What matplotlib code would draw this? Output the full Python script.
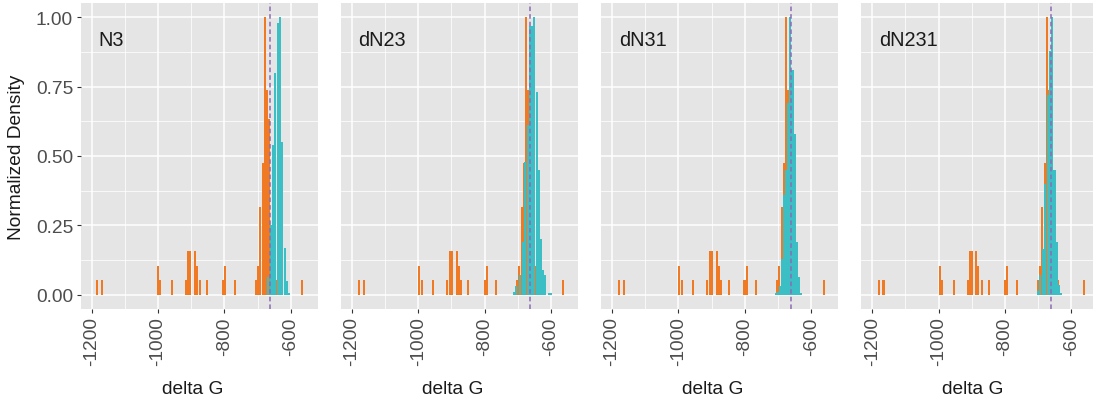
import matplotlib
matplotlib.use("Agg")
import matplotlib.pyplot as plt
import numpy as np

plt.rcParams['font.family'] = ['Liberation Sans', 'DejaVu Sans']

panels = ["N3", "dN23", "dN31", "dN231"]
ref_dg = -662

# orange: bin centres and counts (normalised by the tallest bin)
orange_x_n3 = [-1184, -1169, -1000, -994, -958, -916, -910, -904, -888, -883, -874, -852,
               -803, -798, -768, -705, -699, -693, -685, -678, -672, -665, -658, -652, -643, -566]
orange_n_n3 = [1, 1, 2, 1, 1, 1, 3, 3, 3, 2, 1, 1, 1, 2, 1, 1, 2, 6, 9, 19, 14, 12, 3, 2, 1, 1]

orange_x_dn23 = [-1179, -1164, -998, -988, -955, -914, -904, -898, -883, -878, -871, -849,
                 -799, -793, -765, -702.5, -696.5, -686.5, -680.5, -674.5, -668.5, -663, -657,
                 -647, -640, -563]
orange_n_dn23 = [1, 1, 2, 1, 1, 1, 3, 3, 3, 2, 1, 1, 1, 2, 1, 1, 2, 6, 9, 19, 14, 12, 3, 2, 1, 1]

orange_x_dn31 = [-1179, -1164, -998, -988, -955, -914, -904, -898, -883, -878, -871, -849,
                 -801, -793, -765, -702.5, -696.5, -687.5, -681.5, -675.5, -669.5, -663, -657,
                 -647, -640, -561]
orange_n_dn31 = [1, 1, 2, 1, 1, 1, 3, 3, 3, 2, 1, 1, 1, 2, 1, 1, 2, 6, 9, 19, 14, 12, 3, 2, 1, 1]

orange_x_dn231 = [-1181, -1166, -996, -990, -954, -912, -905.5, -899.5, -887.5, -881.5, -869.5,
                  -848, -800, -794, -764, -700.5, -694.5, -688.5, -679.5, -673.5, -667.5, -661.5,
                  -655, -648, -641, -563]
orange_n_dn231 = [1, 1, 2, 1, 1, 1, 3, 3, 3, 2, 1, 1, 1, 2, 1, 1, 2, 6, 9, 19, 14, 12, 3, 2, 1, 1]

# teal: bin centres and normalised heights
teal_x_n3 = [-668.7, -659.6, -653.5, -647.5, -638.4, -632.3, -626.3, -617.2, -611.1, -605]
teal_h_n3 = [0.065, 0.25, 0.54, 0.80, 0.98, 1.0, 0.55, 0.17, 0.05, 0.008]

teal_x_dn23 = [-711.5, -705.5, -693.5, -684.5, -678.5, -669.5, -663.5, -657.5, -651, -642,
               -636, -629, -623, -617, -605, -599]
teal_h_dn23 = [0.01, 0.03, 0.07, 0.19, 0.48, 0.61, 0.97, 0.97, 1.0, 0.73,
               0.45, 0.2, 0.09, 0.07, 0.005, 0.005]

teal_x_dn31 = [-706, -700, -694, -688, -682, -675.5, -669.5, -663.5, -656.5, -648.5, -642, -636, -630]
teal_h_dn31 = [0.005, 0.01, 0.03, 0.13, 0.36, 0.45, 0.69, 1.0, 0.81, 0.58, 0.19, 0.065, 0.005]

teal_x_dn231 = [-701, -694, -686, -680, -669.5, -663.5, -657.5, -651, -644.5, -638.5, -632]
teal_h_dn231 = [0.015, 0.07, 0.165, 0.4, 0.72, 0.88, 1.0, 0.45, 0.19, 0.035, 0.006]

orange_x = [orange_x_n3, orange_x_dn23, orange_x_dn31, orange_x_dn231]
orange_n = [orange_n_n3, orange_n_dn23, orange_n_dn31, orange_n_dn231]
teal_x = [teal_x_n3, teal_x_dn23, teal_x_dn31, teal_x_dn231]
teal_h = [teal_h_n3, teal_h_dn23, teal_h_dn31, teal_h_dn231]

W, H = 1093, 406
fig = plt.figure(figsize=(W / 100, H / 100), dpi=100)
lefts = [80.7, 340.9, 601.1, 861.3]
pw, top, bot = 237, 4.4, 309.6

for i, name in enumerate(panels):
    ax = fig.add_axes([lefts[i] / W, 1 - bot / H, pw / W, (bot - top) / H])
    ax.set_facecolor("#E5E5E5")
    for s in ax.spines.values():
        s.set_visible(False)
    ax.set_xlim(-1233, -519)
    ax.set_ylim(-0.05, 1.05)
    ax.set_xticks([-1200, -1000, -800, -600])
    ax.set_xticks([-1100, -900, -700], minor=True)
    ax.set_yticks([0, 0.25, 0.5, 0.75, 1.0])
    ax.set_yticks([0.125, 0.375, 0.625, 0.875], minor=True)
    ax.grid(which="major", color="white", lw=1.1, zorder=0)
    ax.grid(which="minor", color="white", lw=0.55, zorder=0)
    ax.set_axisbelow(True)
    ax.tick_params(which="minor", length=0)
    ax.tick_params(which="major", length=3, width=0.8, color="#333333",
                   labelsize=13.8, labelcolor="#4D4D4D", pad=2.5)
    ax.set_xticklabels(["-1200", "-1000", "-800", "-600"], rotation=90)
    if i == 0:
        ax.set_yticklabels(["0.00", "0.25", "0.50", "0.75", "1.00"])
    else:
        ax.tick_params(axis="y", length=0, labelleft=False)

    n = np.array(orange_n[i], dtype=float)
    ax.bar(orange_x[i], n / n.max(), width=6.3, color="#F07A24", linewidth=0, zorder=2)
    ax.bar(teal_x[i], teal_h[i], width=6.3, color="#3BBFC5", linewidth=0, zorder=3)
    ax.axvline(ref_dg, color="#8C6BB5", lw=1.1, ls=(0, (3, 2)), zorder=4)
    ax.text(-1180, 0.92, name, fontsize=14.3, ha="left", va="center", color="#1A1A1A")

    fig.text((lefts[i] + pw / 2 - 7) / W, 1 - 390 / H, "delta G", fontsize=13.8,
             ha="center", va="center", color="#1A1A1A")

fig.text(17 / W, 1 - 157 / H, "Normalized Density", rotation=90, fontsize=13.8,
         ha="center", va="center", color="#1A1A1A")

fig.savefig("out.png", dpi=100)
